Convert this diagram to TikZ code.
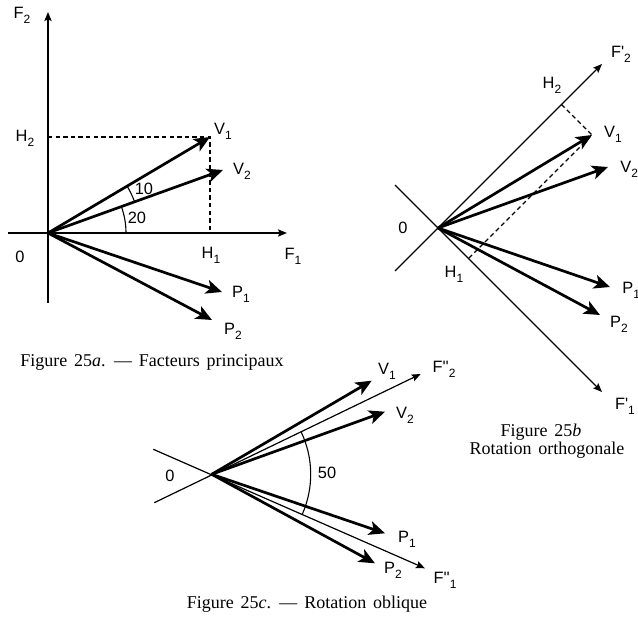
\documentclass[tikz,border=0pt]{standalone}
\usepackage{fontspec}
\setmainfont{Liberation Serif}
\newfontfamily\lblfont{Liberation Sans}
\usetikzlibrary{arrows.meta,calc}
\newcommand{\sbs}[1]{\raisebox{-0.55ex}{\fontsize{6}{6}\selectfont #1}}
\newcommand{\prm}{\textquotesingle}
\newcommand{\capfont}{\fontsize{9}{11}\selectfont\spaceskip 0.38em plus 0.1em\relax}
\begin{document}
\begin{tikzpicture}[x=0.5pt,y=0.5pt,
  vec/.style={line width=1.35pt,-{Stealth[length=8pt,width=7pt,inset=2pt]}},
  axis/.style={line width=0.6pt},
  axarrow/.style={axis,-{Stealth[length=4.5pt,width=3.6pt,inset=0.8pt]}},
  proj/.style={line width=0.55pt,dash pattern=on 2.2pt off 1.6pt},
  lbl/.style={font=\lblfont\fontsize{8.2}{9}\selectfont,inner sep=0pt},
  captext/.style={font=\capfont,inner sep=0pt},
  angarc/.style={line width=0.55pt}]
\useasboundingbox (0,0) rectangle (638,617);
\fill[white] (0,0) rectangle (638,617);

% ---------------- Figure 25a ----------------
\coordinate (aO) at (48,384);
\coordinate (aT) at (48,605);
\coordinate (aB) at (48,314);
\coordinate (aL) at (8,384);
\coordinate (aR) at (287,384);
\coordinate (aV1) at (210,480);
\coordinate (aV2) at (223,447);
\coordinate (aP1) at (222,325);
\coordinate (aP2) at (212,297);
\coordinate (aH2) at ($(aO)!(aV1)!(aT)$);
\coordinate (aH1) at ($(aO)!(aV1)!(aR)$);
\draw[axarrow,line width=0.85pt] (aB) -- (aT);
\draw[axarrow,line width=0.85pt] (aL) -- (aR);
\draw[proj] (aH2) -- (aV1) -- (aH1);
\foreach \t in {V1,V2,P1,P2} \draw[vec] (aO) -- (a\t);
\draw[angarc] (aO) ++(0:78) arc[start angle=0,end angle=19.8,radius=78];
\draw[angarc] (aO) ++(19.8:92) arc[start angle=19.8,end angle=30.65,radius=92];
\node[lbl] (aF2l) at (22,602) {F\sbs{2}};
\node[lbl] (aF1l) at (293,361) {F\sbs{1}};
\node[lbl] (aOl) at (20,360) {0};
\node[lbl] (aH2l) at (25,479) {H\sbs{2}};
\node[lbl] (aH1l) at (211,362) {H\sbs{1}};
\node[lbl] (aV1l) at (223,486) {V\sbs{1}};
\node[lbl] (aV2l) at (242,446) {V\sbs{2}};
\node[lbl] (aP1l) at (241,323) {P\sbs{1}};
\node[lbl] (aP2l) at (233,286) {P\sbs{2}};
\node[lbl] (a10) at (144,428) {10};
\node[lbl] (a20) at (137,399) {20};
\node[captext] (capa) at (152,255) {Figure 25\textit{a}. — Facteurs principaux};

% ---------------- Figure 25b ----------------
\coordinate (bO) at (438,389);
\coordinate (bF2) at (602,553);
\coordinate (bF2b) at (395,346);
\coordinate (bF1) at (602,225);
\coordinate (bF1b) at (395,432);
\coordinate (bV1) at (592,482);
\coordinate (bV2) at (608,450);
\coordinate (bP1) at (610,330);
\coordinate (bP2) at (600,302);
\coordinate (bH2) at ($(bO)!(bV1)!(bF2)$);
\coordinate (bH1) at ($(bO)!(bV1)!(bF1)$);
\draw[axarrow] (bF2b) -- (bF2);
\draw[axarrow] (bF1b) -- (bF1);
\draw[proj] (bH2) -- (bV1) -- (bH1);
\foreach \t in {V1,V2,P1,P2} \draw[vec] (bO) -- (b\t);
\node[lbl] (bF2l) at (621,563) {F\prm\sbs{2}};
\node[lbl] (bF1l) at (625,211) {F\prm\sbs{1}};
\node[lbl] (bOl) at (403,389) {0};
\node[lbl] (bH2l) at (552,532) {H\sbs{2}};
\node[lbl] (bH1l) at (454,343) {H\sbs{1}};
\node[lbl] (bV1l) at (613,483) {V\sbs{1}};
\node[lbl,anchor=west] (bV2l) at (620,448) {V\sbs{2}};
\node[lbl,anchor=west] (bP1l) at (622,327) {P\sbs{1}};
\node[lbl] (bP2l) at (619,293) {P\sbs{2}};
\node[captext] (capb1) at (541,185) {Figure 25\textit{b}};
\node[captext] (capb2) at (547,167) {Rotation orthogonale};

% ---------------- Figure 25c ----------------
\coordinate (cO) at (211.7,142.7);
\coordinate (cF2) at (420.7,243);
\coordinate (cF2b) at (154.3,114.3);
\coordinate (cF1) at (425,48.7);
\coordinate (cF1b) at (153.3,167.7);
\coordinate (cV1) at (371.7,236.3);
\coordinate (cV2) at (385,205.3);
\coordinate (cP1) at (385,83.7);
\coordinate (cP2) at (375,53.7);
\draw[axarrow] (cF2b) -- (cF2);
\draw[axarrow] (cF1b) -- (cF1);
\foreach \t in {V1,V2,P1,P2} \draw[vec] (cO) -- (c\t);
\draw[angarc] (cO) ++(-23.78:99) arc[start angle=-23.78,end angle=25.63,radius=99];
\node[lbl] (cOl) at (170,141) {0};
\node[lbl] (c50) at (327,144) {50};
\node[lbl] (cV1l) at (387,246) {V\sbs{1}};
\node[lbl] (cF2l) at (444,248) {F\prm\prm\sbs{2}};
\node[lbl] (cV2l) at (405,202) {V\sbs{2}};
\node[lbl] (cP1l) at (407,78) {P\sbs{1}};
\node[lbl] (cP2l) at (393,47) {P\sbs{2}};
\node[lbl] (cF1l) at (445,37) {F\prm\prm\sbs{1}};
\node[captext] (capc) at (307,13) {Figure 25\textit{c}. — Rotation oblique};
\end{tikzpicture}
\end{document}
